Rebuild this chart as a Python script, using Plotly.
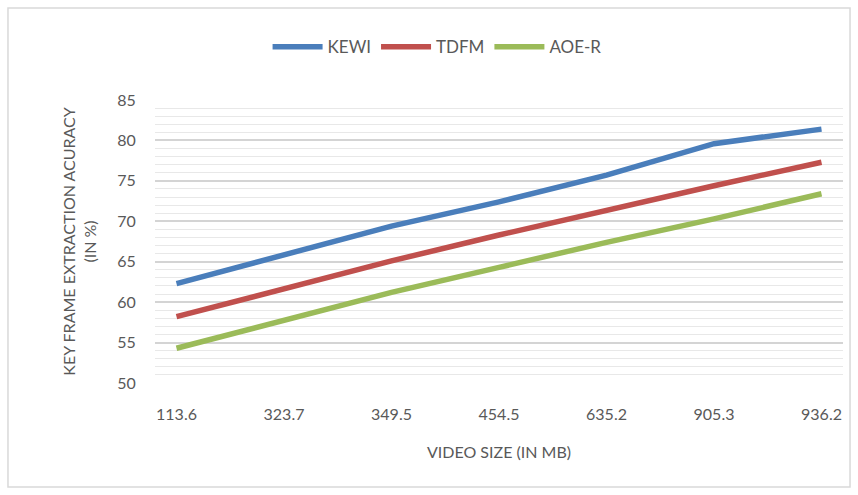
import plotly.graph_objects as go

categories = ["113.6", "323.7", "349.5", "454.5", "635.2", "905.3", "936.2"]
kewi = [62.3, 65.9, 69.4, 72.4, 75.7, 79.6, 81.4]
tdfm = [58.2, 61.7, 65.1, 68.3, 71.4, 74.4, 77.3]
aoer = [54.3, 57.7, 61.2, 64.3, 67.4, 70.3, 73.4]

series_names = ["KEWI", "TDFM", "AOE-R"]
colors = ["#4a7ebb", "#c0504d", "#9bbb59"]

FONT = "Lato, sans-serif"
GRAY = "#595959"

fig = go.Figure()
for name, vals, col in zip(series_names, [kewi, tdfm, aoer], colors):
    fig.add_trace(go.Scatter(x=categories, y=vals, name=name, mode="lines",
                             line=dict(color=col, width=5.5)))

fig.update_layout(
    width=858, height=495,
    margin=dict(l=155, r=15, t=100, b=112),
    paper_bgcolor="white", plot_bgcolor="white",
    font=dict(family=FONT, color=GRAY, size=16),
    legend=dict(orientation="h", x=0.41, xanchor="center", y=1.187, yanchor="middle",
                font=dict(size=17, color=GRAY), itemwidth=50, traceorder="normal"),
    xaxis=dict(type="category", range=[-0.2, 6.2], showgrid=False, zeroline=False,
               ticks="outside", ticklen=17, tickcolor="rgba(0,0,0,0)",
               tickfont=dict(size=16, color=GRAY),
               title=dict(text="VIDEO SIZE (IN MB)", font=dict(size=16, color=GRAY), standoff=24)),
    yaxis=dict(range=[50, 85], dtick=5, showgrid=True, gridcolor="#d4d4d4", gridwidth=1.5,
               zeroline=False, ticks="outside", ticklen=15, tickcolor="rgba(0,0,0,0)",
               tickfont=dict(size=16, color=GRAY),
               minor=dict(dtick=1, showgrid=True, gridcolor="#e8e8e8", gridwidth=1),
               title=dict(text="KEY FRAME EXTRACTION ACURACY<br>(IN %)",
                          font=dict(size=16, color=GRAY), standoff=16)),
    shapes=[dict(type="rect", xref="paper", yref="paper",
                 x0=-0.2137, x1=1.0102, y0=-0.3675, y1=1.325,
                 line=dict(color="#d9d9d9", width=1.5), layer="below")],
)

fig.write_html("out.html")
